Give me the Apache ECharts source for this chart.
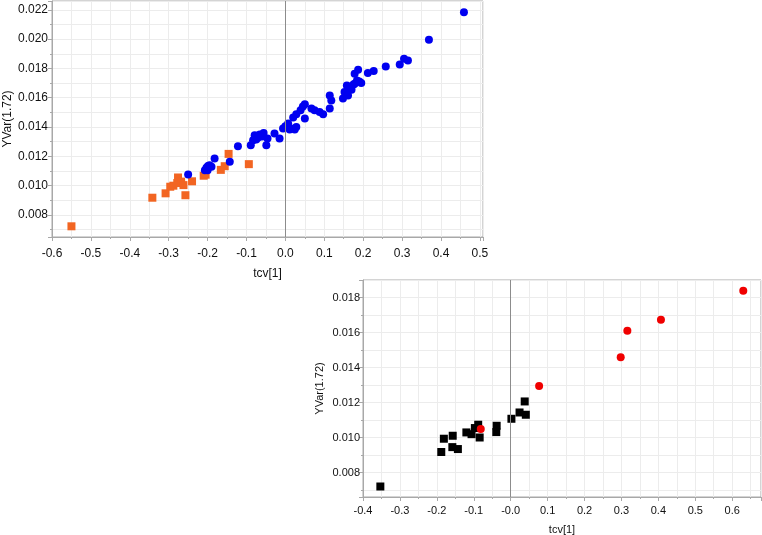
<!DOCTYPE html>
<html>
<head>
<meta charset="utf-8">
<script src="https://cdn.jsdelivr.net/npm/echarts@6/dist/echarts.min.js"></script>
<style>html,body{margin:0;padding:0;background:#fff}#c{width:762px;height:535px}</style>
</head>
<body>
<div id="c"></div>
<script>
// ---- Top chart data ----
const topBlue = [
[-0.250,0.01077],[-0.207,0.01106],[-0.203,0.01122],[-0.200,0.01105],[-0.199,0.01135],[-0.195,0.01140],[-0.190,0.01129],[-0.182,0.01186],[-0.143,0.01163],[-0.122,0.01269],
[-0.089,0.01276],[-0.083,0.01310],[-0.079,0.01344],[-0.075,0.01315],[-0.070,0.01329],[-0.066,0.01349],[-0.060,0.01335],[-0.056,0.01360],[-0.049,0.01276],[-0.046,0.01322],
[-0.028,0.01356],[-0.015,0.01322],[-0.006,0.01390],[0.000,0.01405],[0.007,0.01424],[0.011,0.01383],[0.015,0.01390],[0.020,0.01465],[0.024,0.01383],[0.028,0.01401],
[0.028,0.01487],[0.039,0.01514],[0.045,0.01540],[0.050,0.01555],[0.050,0.01458],[0.067,0.01526],[0.075,0.01514],[0.088,0.01503],[0.097,0.01487],[0.114,0.01526],
[0.118,0.01582],[0.114,0.01616],[0.148,0.01594],[0.152,0.01639],[0.158,0.01684],[0.161,0.01616],[0.165,0.01660],[0.170,0.01655],[0.175,0.01690],[0.178,0.01696],
[0.184,0.01718],[0.190,0.01710],[0.195,0.01700],[0.178,0.01764],[0.187,0.01791],[0.212,0.01768],[0.227,0.01782],[0.258,0.01814],[0.294,0.01827],[0.305,0.01866],
[0.315,0.01854],[0.369,0.01995],[0.459,0.02184]
];
const topOrange = [
[-0.550,0.00723],[-0.342,0.00918],[-0.308,0.00948],[-0.296,0.00993],[-0.288,0.01000],[-0.276,0.01056],[-0.278,0.01018],[-0.268,0.01028],[-0.262,0.01004],
[-0.257,0.00935],[-0.240,0.01030],[-0.210,0.01068],[-0.205,0.01075],[-0.166,0.01108],[-0.156,0.01133],[-0.146,0.01217],[-0.094,0.01147]
];
// ---- Bottom chart data ----
const bottomBlack = [
[-0.353,0.00720],[-0.188,0.00917],[-0.181,0.00993],[-0.158,0.00945],[-0.157,0.01010],[-0.143,0.00934],[-0.120,0.01029],[-0.106,0.01019],[-0.097,0.01054],
[-0.088,0.01073],[-0.084,0.01000],[-0.038,0.01067],[-0.039,0.01031],[0.002,0.01107],[0.024,0.01143],[0.041,0.01130],[0.038,0.01206]
];
const bottomRed = [
[-0.081,0.01048],[0.077,0.01295],[0.298,0.01459],[0.316,0.01610],[0.407,0.01673],[0.630,0.01838]
];
// ---- Tick labels ----
const topXTicks = [-0.6,-0.5,-0.4,-0.3,-0.2,-0.1,0,0.1,0.2,0.3,0.4,0.5];
const topXLabels = ['-0.6','-0.5','-0.4','-0.3','-0.2','-0.1','0.0','0.1','0.2','0.3','0.4','0.5'];
const topYTicks = [0.008,0.010,0.012,0.014,0.016,0.018,0.020,0.022];
const topYLabels = ['0.008','0.010','0.012','0.014','0.016','0.018','0.020','0.022'];
const botXTicks = [-0.4,-0.3,-0.2,-0.1,0,0.1,0.2,0.3,0.4,0.5,0.6];
const botXLabels = ['-0.4','-0.3','-0.2','-0.1','-0.0','0.1','0.2','0.3','0.4','0.5','0.6'];
const botYTicks = [0.008,0.010,0.012,0.014,0.016,0.018];
const botYLabels = ['0.008','0.010','0.012','0.014','0.016','0.018'];
const axisNameX = 'tcv[1]';
const axisNameY = 'YVar(1.72)';

function fmt(vals, labels, tol) {
  return function (v) {
    for (let i = 0; i < vals.length; i++) if (Math.abs(v - vals[i]) < tol) return labels[i];
    return '';
  };
}
const FONT = 'Liberation Sans, Arial, sans-serif';
const gridColor = '#ececec';
const axisColor = '#a8a8a8';

function xAxisOpt(gridIndex, min, max, vals, labels, fs, nameGap, margin) {
  return {
    type: 'value', gridIndex, min, max, interval: 0.1,
    name: axisNameX, nameLocation: 'middle', nameGap, nameMoveOverlap: false,
    nameTextStyle: {fontFamily: FONT, fontSize: fs, color: '#111'},
    axisLine: {show: true, onZero: false, lineStyle: {color: axisColor}},
    axisTick: {show: true, length: 4, lineStyle: {color: axisColor}},
    minorTick: {show: true, splitNumber: 2, length: 2, lineStyle: {color: axisColor}},
    splitLine: {show: true, lineStyle: {color: gridColor}},
    minorSplitLine: {show: true, lineStyle: {color: gridColor}},
    axisLabel: {fontFamily: FONT, fontSize: fs, color: '#111', margin, formatter: fmt(vals, labels, 1e-6), showMinLabel: true, showMaxLabel: false, hideOverlap: false}
  };
}
function yAxisOpt(gridIndex, min, max, split, vals, labels, fs, nameGap, margin) {
  return {
    type: 'value', gridIndex, min, max, splitNumber: split,
    name: axisNameY, nameLocation: 'middle', nameGap, nameMoveOverlap: false,
    nameTextStyle: {fontFamily: FONT, fontSize: fs, color: '#111'},
    axisLine: {show: true, onZero: false, lineStyle: {color: axisColor}},
    axisTick: {show: true, length: 4, lineStyle: {color: axisColor}},
    minorTick: {show: true, splitNumber: 2, length: 2, lineStyle: {color: axisColor}},
    splitLine: {show: true, lineStyle: {color: gridColor}},
    minorSplitLine: {show: true, lineStyle: {color: gridColor}},
    axisLabel: {fontFamily: FONT, fontSize: fs, color: '#111', margin, formatter: fmt(vals, labels, 1e-7), hideOverlap: false}
  };
}
const zeroLine = {
  silent: true, symbol: ['none', 'none'], animation: false,
  label: {show: false},
  lineStyle: {color: '#8c8c8c', width: 1, type: 'solid'},
  emphasis: {disabled: true},
  data: [{xAxis: 0}]
};

const option = {
  animation: false,
  backgroundColor: '#fff',
  grid: [
    {left: 52, top: 1, right: 279, bottom: 298, show: true, borderColor: axisColor, borderWidth: 1, containLabel: false, outerBoundsMode: 'none'},
    {left: 363, top: 280, right: 1, bottom: 38, show: true, borderColor: axisColor, borderWidth: 1, containLabel: false, outerBoundsMode: 'none'}
  ],
  xAxis: [
    xAxisOpt(0, -0.6, 0.508, topXTicks, topXLabels, 12, 31, 11),
    xAxisOpt(1, -0.4, 0.678, botXTicks, botXLabels, 11, 27, 8)
  ],
  yAxis: [
    yAxisOpt(0, 0.0065, 0.0226, 8, topYTicks, topYLabels, 12, 38, 4),
    yAxisOpt(1, 0.0066, 0.0190, 6, botYTicks, botYLabels, 11, 38, 3)
  ],
  series: [
    {type: 'scatter', xAxisIndex: 0, yAxisIndex: 0, data: topOrange, symbol: 'rect', symbolSize: 8,
     itemStyle: {color: '#F26522', opacity: 1}, markLine: zeroLine, z: 2},
    {type: 'scatter', xAxisIndex: 0, yAxisIndex: 0, data: topBlue, symbol: 'circle', symbolSize: 8,
     itemStyle: {color: '#0000F0', opacity: 1}, z: 3},
    {type: 'scatter', xAxisIndex: 1, yAxisIndex: 1, data: bottomBlack, symbol: 'rect', symbolSize: 8,
     itemStyle: {color: '#000000', opacity: 1}, markLine: zeroLine, z: 2},
    {type: 'scatter', xAxisIndex: 1, yAxisIndex: 1, data: bottomRed, symbol: 'circle', symbolSize: 8,
     itemStyle: {color: '#F00000', opacity: 1}, z: 3}
  ]
};
const chart = echarts.init(document.getElementById('c'), null, {renderer: 'canvas'});
chart.setOption(option);
</script>
</body>
</html>
